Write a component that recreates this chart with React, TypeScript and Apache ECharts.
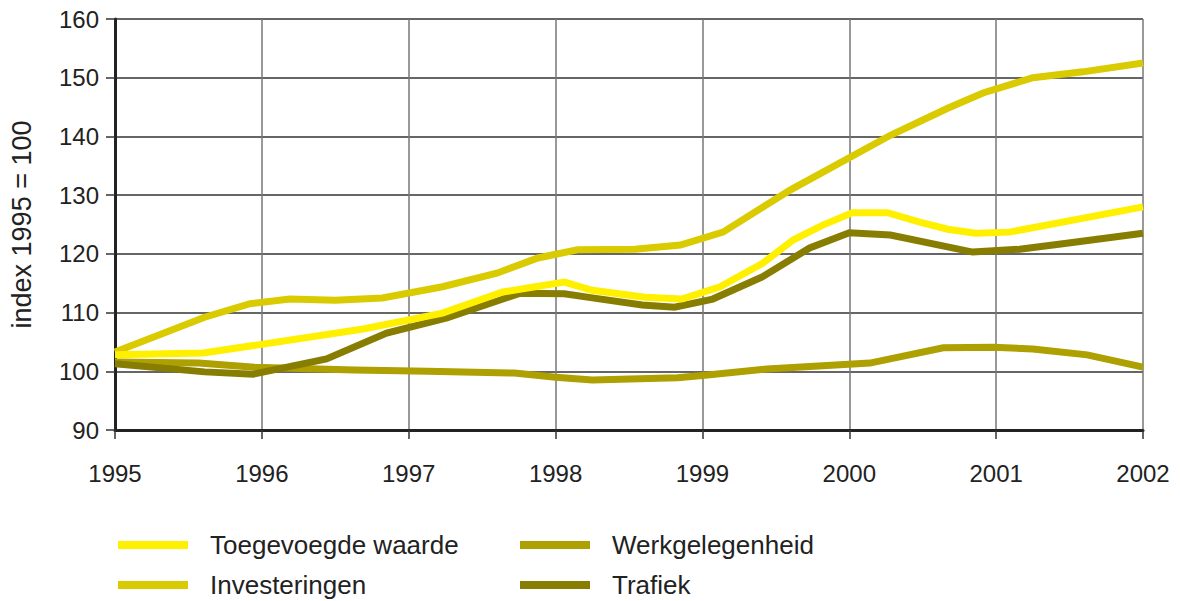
import React, { useEffect, useRef } from "react";
import * as echarts from "echarts";

const xTicks = { min: 1995, max: 2002, interval: 1 };
const yTicks = { min: 90, max: 160, interval: 10 };

const seriesNames = ["Toegevoegde waarde", "Investeringen", "Werkgelegenheid", "Trafiek"];
const seriesColors = ["#FFF000", "#D9CB00", "#ADA000", "#877D00"];

const toegevoegdeWaarde: [number, number][] = [
  [1995.0, 102.8], [1995.6, 103.1], [1996.69, 107.2], [1997.23, 109.9], [1997.64, 113.5],
  [1997.84, 114.3], [1998.06, 115.2], [1998.25, 113.8], [1998.61, 112.6], [1998.86, 112.3],
  [1999.12, 114.4], [1999.41, 118.4], [1999.62, 122.4], [1999.82, 124.9], [2000.02, 127.0],
  [2000.26, 127.0], [2000.48, 125.4], [2000.67, 124.2], [2000.86, 123.5], [2001.09, 123.7],
  [2002.0, 128.0],
];

const investeringen: [number, number][] = [
  [1995.0, 103.3], [1995.61, 109.2], [1995.92, 111.5], [1996.19, 112.3], [1996.5, 112.1],
  [1996.82, 112.5], [1997.23, 114.4], [1997.6, 116.7], [1997.88, 119.3], [1998.15, 120.7],
  [1998.54, 120.8], [1998.85, 121.5], [1999.14, 123.7], [1999.6, 130.9], [2000.28, 140.2],
  [2000.67, 144.8], [2000.91, 147.4], [2001.25, 150.0], [2001.59, 151.0], [2002.0, 152.5],
];

const werkgelegenheid: [number, number][] = [
  [1995.0, 101.6], [1995.57, 101.4], [1995.95, 100.7], [1996.63, 100.2], [1997.13, 100.0],
  [1997.72, 99.7], [1998.0, 99.0], [1998.25, 98.5], [1998.83, 98.9], [1999.0, 99.3],
  [1999.44, 100.4], [2000.14, 101.4], [2000.64, 104.0], [2000.98, 104.1], [2001.25, 103.8],
  [2001.62, 102.8], [2002.0, 100.7],
];

const trafiek: [number, number][] = [
  [1995.0, 101.3], [1995.61, 99.9], [1995.94, 99.5], [1996.44, 102.1], [1996.85, 106.5],
  [1997.26, 109.1], [1997.76, 113.3], [1998.06, 113.2], [1998.25, 112.5], [1998.59, 111.3],
  [1998.81, 110.9], [1999.07, 112.3], [1999.41, 116.1], [1999.73, 121.0], [2000.0, 123.6],
  [2000.28, 123.2], [2000.84, 120.3], [2001.16, 120.8], [2001.48, 121.8], [2002.0, 123.5],
];

const seriesData = [toegevoegdeWaarde, investeringen, werkgelegenheid, trafiek];
// drawing order (later on top)
const drawOrder = [2, 3, 1, 0];
// legend positions: [left, top]
const legendPos: [number, number][] = [
  [118, 532],
  [118, 572],
  [520, 532],
  [520, 572],
];

const FONT = "'Liberation Sans', Arial, sans-serif";

export default function App() {
  const ref = useRef<HTMLDivElement>(null);
  useEffect(() => {
    if (!ref.current) return;
    const chart = echarts.init(ref.current, null, { renderer: "svg" });
    chart.setOption({
      animation: false,
      backgroundColor: "#ffffff",
      grid: {
        left: 115,
        right: 37,
        top: 19,
        bottom: 171,
        containLabel: false,
        outerBoundsMode: "none",
      },
      legend: seriesNames.map((n, i) => ({
        data: [n],
        left: legendPos[i][0],
        top: legendPos[i][1],
        padding: 0,
        icon: "rect",
        itemWidth: 70,
        itemHeight: 8,
        selectedMode: false,
        textStyle: {
          fontSize: 26,
          lineHeight: 26,
          color: "#222",
          fontFamily: FONT,
          padding: [0, 0, 0, 17],
        },
      })),
      xAxis: {
        type: "value",
        min: xTicks.min,
        max: xTicks.max,
        interval: xTicks.interval,
        axisLine: { show: true, onZero: false, lineStyle: { color: "#222", width: 3 } },
        axisTick: { show: true, length: 9, lineStyle: { color: "#333", width: 1.5 } },
        splitLine: { show: true, lineStyle: { color: "#777", width: 1.5 } },
        axisLabel: {
          fontSize: 24,
          color: "#222",
          fontFamily: FONT,
          margin: 31,
          formatter: (v: number) => String(v),
        },
      },
      yAxis: {
        type: "value",
        min: yTicks.min,
        max: yTicks.max,
        interval: yTicks.interval,
        name: "index 1995 = 100",
        nameLocation: "middle",
        nameGap: 80,
        nameTextStyle: { fontSize: 27, color: "#222", fontFamily: FONT },
        axisLine: { show: true, onZero: false, lineStyle: { color: "#222", width: 3 } },
        axisTick: { show: true, length: 9, lineStyle: { color: "#333", width: 1.5 } },
        splitLine: { show: true, lineStyle: { color: "#333", width: 1.5 } },
        axisLabel: { fontSize: 24, color: "#222", fontFamily: FONT, margin: 16 },
      },
      series: drawOrder.map((i) => ({
        name: seriesNames[i],
        type: "line",
        data: seriesData[i],
        showSymbol: false,
        symbol: "none",
        color: seriesColors[i],
        itemStyle: { color: seriesColors[i] },
        lineStyle: { color: seriesColors[i], width: 7, cap: "butt", join: "miter" },
        emphasis: { disabled: true },
      })),
    });
    return () => chart.dispose();
  }, []);
  return (
    <div
      ref={ref}
      style={{ position: "absolute", left: 0, top: 0, width: 1180, height: 601 }}
    />
  );
}
